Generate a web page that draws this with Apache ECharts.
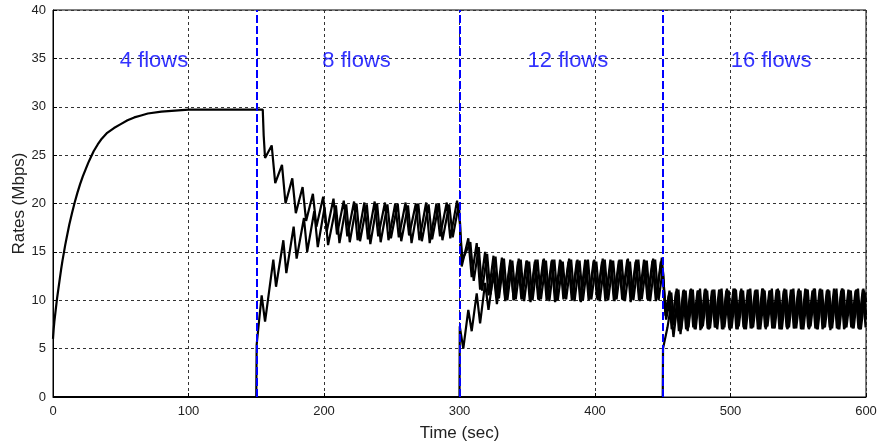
<!DOCTYPE html>
<html>
<head>
<meta charset="utf-8">
<script src="https://cdn.jsdelivr.net/npm/echarts@6/dist/echarts.min.js"></script>
<style>
html,body{margin:0;padding:0;background:#fff;}
#chart{width:883px;height:444px;}
</style>
</head>
<body>
<div id="chart"></div>
<script>
// ---- data (time sec, rate Mbps) ----
const xTicks = [0, 100, 200, 300, 400, 500, 600];
const yTicks = [0, 5, 10, 15, 20, 25, 30, 35, 40];
const switchTimes = [150, 300, 450];
const flowLabels = ['4 flows', '8 flows', '12 flows', '16 flows'];
const flowLabelX = [74.5, 224, 380, 530];
const flowLabelY = [34.7, 34.7, 34.7, 34.7];

// flows present from t=0
const flowA_ramp = [[0,6],[0.5,7],[1,7.8],[2,9],[3,10.2],[4,11.2],[5,12.2],[6,13.2],[7,14.1],[8,14.9],[9,15.7],[10,16.4],[12,17.8],[14,19],[16,20.1],[18,21.1],[20,22],[22,22.8],[24,23.5],[26,24.2],[28,24.8],[30,25.4],[33,26.1],[36,26.7],[40,27.3],[45,27.8],[50,28.2],[55,28.6],[60,28.9],[65,29.1],[70,29.3],[80,29.5],[90,29.6],[100,29.7],[154.8,29.7]];
const flowA_8 = [[155.5,27.0],[156.5,24.7],[161.4,26.0],[164,22.1],[169,24.0],[171.6,20.0],[176.6,22.6],[179.2,19.0],[184.2,21.7],[186.8,18.2],[191.8,21.0],[194.4,17.6],[199.4,20.7],[202,17.1],[207,20.5],[209.6,16.8],[214.6,20.3],[217.2,16.6],[222.2,20.2],[224.8,16.2],[229.8,20.1],[232.4,16.3],[237.4,20.2],[240,16.6],[245,20.1],[247.6,16.2],[252.6,20.0],[255.2,16.5],[260.2,20.1],[262.8,16.7],[267.8,20.0],[270.4,16.2],[275.4,20.1],[278,15.9],[283,20.0],[285.6,16.6],[290.6,20.1],[293.2,16.4],[298.2,20.3]];
const flowA_12 = [[300.4,18.0],[301.6,13.5],[306.5,16.4],[309,12.4],[312.7,15.9],[315.2,11.1],[318.9,15.0],[321.4,10.5],[325.1,14.6],[327.6,10.3],[331.3,14.4],[333.8,10.2],[337.5,14.2],[340,10.0],[343.7,14.3],[346.2,10.1],[349.9,14.1],[352.4,9.8],[356.1,14.2],[358.6,10.0],[362.3,14.3],[364.8,10.1],[368.5,14.2],[371,9.9],[374.7,14.1],[377.2,10.2],[380.9,14.3],[383.4,10.0],[387.1,14.2],[389.6,9.8],[393.3,14.1],[395.8,10.1],[399.5,14.2],[402,10.0],[405.7,14.3],[408.2,10.2],[411.9,14.1],[414.4,9.9],[418.1,14.2],[420.6,10.0],[424.3,14.3],[426.8,10.1],[430.5,14.2],[433,9.9],[436.7,14.1],[439.2,10.0],[442.9,14.3],[445.4,10.2],[449.3,14.4]];
const flowA_16 = [[450.4,12.6],[452,8.4],[455,11.0],[457.1,7.6],[460.3,11.2],[462.4,7.2],[465.6,11.1],[467.7,7.0],[470.9,11.2],[473,7.3],[476.2,11.0],[478.3,7.1],[481.5,11.2],[483.6,7.0],[486.8,11.1],[488.9,7.2],[492.1,11.0],[494.2,7.3],[497.4,11.2],[499.5,6.9],[502.7,11.1],[504.8,7.2],[508,11.2],[510.1,7.0],[513.3,11.0],[515.4,7.3],[518.6,11.1],[520.7,7.1],[523.9,11.2],[526,7.0],[529.2,11.0],[531.3,7.2],[534.5,11.1],[536.6,7.3],[539.8,11.2],[541.9,7.0],[545.1,11.0],[547.2,7.1],[550.4,11.2],[552.5,7.2],[555.7,11.1],[557.8,7.0],[561,11.0],[563.1,7.3],[566.3,11.2],[568.4,7.1],[571.6,11.1],[573.7,6.9],[576.9,11.0],[579,7.2],[582.2,11.2],[584.3,7.1],[587.5,11.0],[589.6,7.3],[592.8,11.1],[594.9,7.0],[598.1,11.2],[600,8.0]];

// flows started at t=150
const flowB_8 = [[0,0],[150,0],[150.3,5.4],[154,10.5],[156.5,7.8],[162.6,14.2],[164.6,11.4],[170,16.2],[172.2,12.8],[177.6,17.6],[179.8,14.3],[185.2,18.5],[187.6,15.0],[192.8,19.2],[195.4,15.5],[200.4,19.6],[203,15.7],[208.8,19.8],[211.4,15.9],[216.4,19.9],[219,16.0],[224,20.0],[226.6,16.1],[231.6,19.9],[234.2,15.8],[239.2,20.0],[241.8,16.0],[246.8,19.9],[249.4,16.4],[254.4,20.0],[257,16.1],[262,19.8],[264.6,15.9],[269.6,20.0],[272.2,16.1],[277.2,19.9],[279.8,16.3],[284.8,20.0],[287.4,16.2],[292.4,19.9],[295,16.5],[299.6,20.0]];
const flowB_12 = [[300.6,17.0],[302.2,14.2],[308,16.0],[310.5,12.0],[314.2,15.5],[316.7,11.0],[320.4,14.8],[322.9,10.6],[326.6,14.5],[329.1,10.2],[332.8,14.3],[335.3,10.0],[339,14.1],[341.5,10.1],[345.2,14.2],[347.7,9.9],[351.4,14.0],[353.9,10.0],[357.6,14.2],[360.1,10.1],[363.8,14.1],[366.3,9.9],[370,14.2],[372.5,10.0],[376.2,14.0],[378.7,10.1],[382.4,14.2],[384.9,9.9],[388.6,14.1],[391.1,10.0],[394.8,14.2],[397.3,10.1],[401,14.0],[403.5,9.9],[407.2,14.2],[409.7,10.0],[413.4,14.1],[415.9,10.1],[419.6,14.2],[422.1,9.9],[425.8,14.0],[428.3,10.0],[432,14.2],[434.5,10.1],[438.2,14.1],[440.7,9.9],[444.4,14.2],[446.9,10.0],[450,13.2]];
const flowB_16 = [[452.5,8.0],[456.3,10.8],[458.4,7.4],[461.6,11.1],[463.7,7.0],[466.9,11.0],[469,7.2],[472.2,11.1],[474.3,7.0],[477.5,11.2],[479.6,7.3],[482.8,11.0],[484.9,7.1],[488.1,11.1],[490.2,7.0],[493.4,11.2],[495.5,7.2],[498.7,11.0],[500.8,7.1],[504,11.1],[506.1,7.3],[509.3,11.0],[511.4,7.0],[514.6,11.2],[516.7,7.2],[519.9,11.1],[522,7.0],[525.2,11.0],[527.3,7.3],[530.5,11.2],[532.6,7.1],[535.8,11.0],[537.9,7.0],[541.1,11.1],[543.2,7.2],[546.4,11.2],[548.5,7.1],[551.7,11.0],[553.8,7.0],[557,11.1],[559.1,7.3],[562.3,11.2],[564.4,7.0],[567.6,11.1],[569.7,7.2],[572.9,11.0],[575,7.1],[578.2,11.2],[580.3,7.0],[583.5,11.1],[585.6,7.2],[588.8,11.0],[590.9,7.1],[594.1,11.2],[596.2,7.0],[599.4,10.8],[600,9.8]];

// flows started at t=300
const flowC_12 = [[0,0],[300,0],[300.2,7.3],[302.8,5.0],[306.5,9.0],[309,6.8],[312.7,10.7],[315.2,7.6],[318.9,11.8],[321.4,9.0],[325.1,12.8],[327.6,9.6],[331.3,13.4],[333.8,9.9],[337.5,13.8],[340,10.0],[343.2,14.0],[345.7,10.1],[349.4,14.1],[351.9,9.9],[355.6,14.0],[358.1,10.1],[361.8,14.2],[364.3,10.0],[368,14.1],[370.5,9.8],[374.2,14.2],[376.7,10.1],[380.4,14.0],[382.9,10.0],[386.6,14.1],[389.1,9.9],[392.8,14.2],[395.3,10.0],[399,14.1],[401.5,10.2],[405.2,14.0],[407.7,9.9],[411.4,14.2],[413.9,10.0],[417.6,14.1],[420.1,10.1],[423.8,14.2],[426.3,9.8],[430,14.0],[432.5,10.0],[436.2,14.2],[438.7,10.1],[442.4,14.1],[444.9,9.9],[448.6,14.0],[450.3,12.0],[452,8.8]];
const flowC_16 = [[454.5,10.5],[456.6,7.0],[459.8,10.9],[461.9,6.8],[465.1,11.0],[467.2,7.0],[470.4,11.1],[472.5,7.2],[475.7,11.0],[477.8,6.9],[481,11.1],[483.1,7.1],[486.3,11.0],[488.4,7.2],[491.6,11.1],[493.7,7.0],[496.9,11.0],[499,7.1],[502.2,11.2],[504.3,7.0],[507.5,11.0],[509.6,7.2],[512.8,11.1],[514.9,7.1],[518.1,11.0],[520.2,7.0],[523.4,11.2],[525.5,7.2],[528.7,11.0],[530.8,7.1],[534,11.1],[536.1,7.0],[539.3,11.0],[541.4,7.2],[544.6,11.1],[546.7,7.1],[549.9,11.0],[552,7.0],[555.2,11.2],[557.3,7.2],[560.5,11.0],[562.6,7.1],[565.8,11.1],[567.9,7.0],[571.1,11.0],[573.2,7.2],[576.4,11.2],[578.5,7.1],[581.7,11.0],[583.8,7.0],[587,11.1],[589.1,7.2],[592.3,11.0],[594.4,7.1],[597.6,11.1],[599.7,7.2]];

// flows started at t=450
const flowD_16 = [[0,0],[450,0],[450.2,5.0],[451.6,5.0],[453.5,7.2],[455.8,9.2],[457.9,6.2],[461,9.8],[463.1,6.5],[466.3,10.4],[468.4,6.8],[471.4,10.8],[473.5,7.0],[476.7,11.0],[478.8,7.1],[482,11.1],[484.1,7.0],[487.3,11.0],[489.4,7.2],[492.6,11.1],[494.7,7.0],[497.9,11.0],[500,7.1],[503.2,11.2],[505.3,7.0],[508.5,11.0],[510.6,7.2],[513.8,11.1],[515.9,7.1],[519.1,11.0],[521.2,7.0],[524.4,11.1],[526.5,7.2],[529.7,11.0],[531.8,7.1],[535,11.2],[537.1,7.0],[540.3,11.0],[542.4,7.1],[545.6,11.1],[547.7,7.2],[550.9,11.0],[553,7.0],[556.2,11.1],[558.3,7.1],[561.5,11.2],[563.6,7.0],[566.8,11.0],[568.9,7.2],[572.1,11.1],[574.2,7.1],[577.4,11.0],[579.5,7.0],[582.7,11.2],[584.8,7.2],[588,11.0],[590.1,7.1],[593.3,11.1],[595.4,7.0],[598.6,11.0],[600,8.5]];

// ---- build ----
const flows = [
  flowA_ramp.concat(flowA_8, flowA_12, flowA_16),
  flowB_8.concat(flowB_12, flowB_16),
  flowC_12.concat(flowC_16),
  flowD_16
];
const FONT = '"Liberation Sans", Arial, sans-serif';
const chart = echarts.init(document.getElementById('chart'), null, {renderer: 'canvas'});
const series = flows.map(d => ({
  type: 'line', data: d, showSymbol: false, symbol: 'none', animation: false,
  lineStyle: {color: '#000', width: 2.2}, z: 3
}));
series.push({
  type: 'line', data: [], z: 4, animation: false,
  markLine: {
    silent: true, symbol: ['none', 'none'], animation: false,
    label: {show: false},
    lineStyle: {color: '#0000ff', width: 2, type: [8, 3]},
    data: switchTimes.map(t => ({xAxis: t}))
  }
});
series.push({
  type: 'scatter', symbolSize: 0, z: 5, animation: false, silent: true,
  data: flowLabels.map((n, i) => ({value: [flowLabelX[i], flowLabelY[i]], name: n})),
  label: {show: true, position: 'inside', formatter: p => p.name, color: '#0000ff', fontSize: 22, fontFamily: FONT}
});
chart.setOption({
  animation: false,
  backgroundColor: '#fff',
  grid: {left: 53, right: 17, top: 10, bottom: 47, show: true, borderColor: '#000', borderWidth: 1, backgroundColor: '#fff', containLabel: false, outerBoundsMode: 'none'},
  xAxis: {
    type: 'value', min: xTicks[0], max: xTicks[xTicks.length - 1], interval: 100,
    name: 'Time (sec)', nameLocation: 'middle', nameGap: 28, nameMoveOverlap: false,
    nameTextStyle: {fontFamily: FONT, fontSize: 17, color: '#222'},
    axisLine: {show: true, onZero: false, lineStyle: {color: '#000', width: 1}},
    axisTick: {show: true, inside: true, length: 4, lineStyle: {color: '#000'}},
    axisLabel: {fontFamily: FONT, fontSize: 13, color: '#222', margin: 8},
    splitLine: {show: true, lineStyle: {color: '#333', width: 1, type: [3, 3]}}
  },
  yAxis: {
    type: 'value', min: yTicks[0], max: yTicks[yTicks.length - 1], interval: 5,
    name: 'Rates (Mbps)', nameLocation: 'middle', nameGap: 25, nameMoveOverlap: false,
    nameTextStyle: {fontFamily: FONT, fontSize: 17, color: '#222'},
    axisLine: {show: true, lineStyle: {color: '#000', width: 1}},
    axisTick: {show: true, inside: true, length: 4, lineStyle: {color: '#000'}},
    axisLabel: {fontFamily: FONT, fontSize: 13, color: '#222', margin: 7},
    splitLine: {show: true, lineStyle: {color: '#333', width: 1, type: [3, 3]}}
  },
  series: series
});
</script>
</body>
</html>
